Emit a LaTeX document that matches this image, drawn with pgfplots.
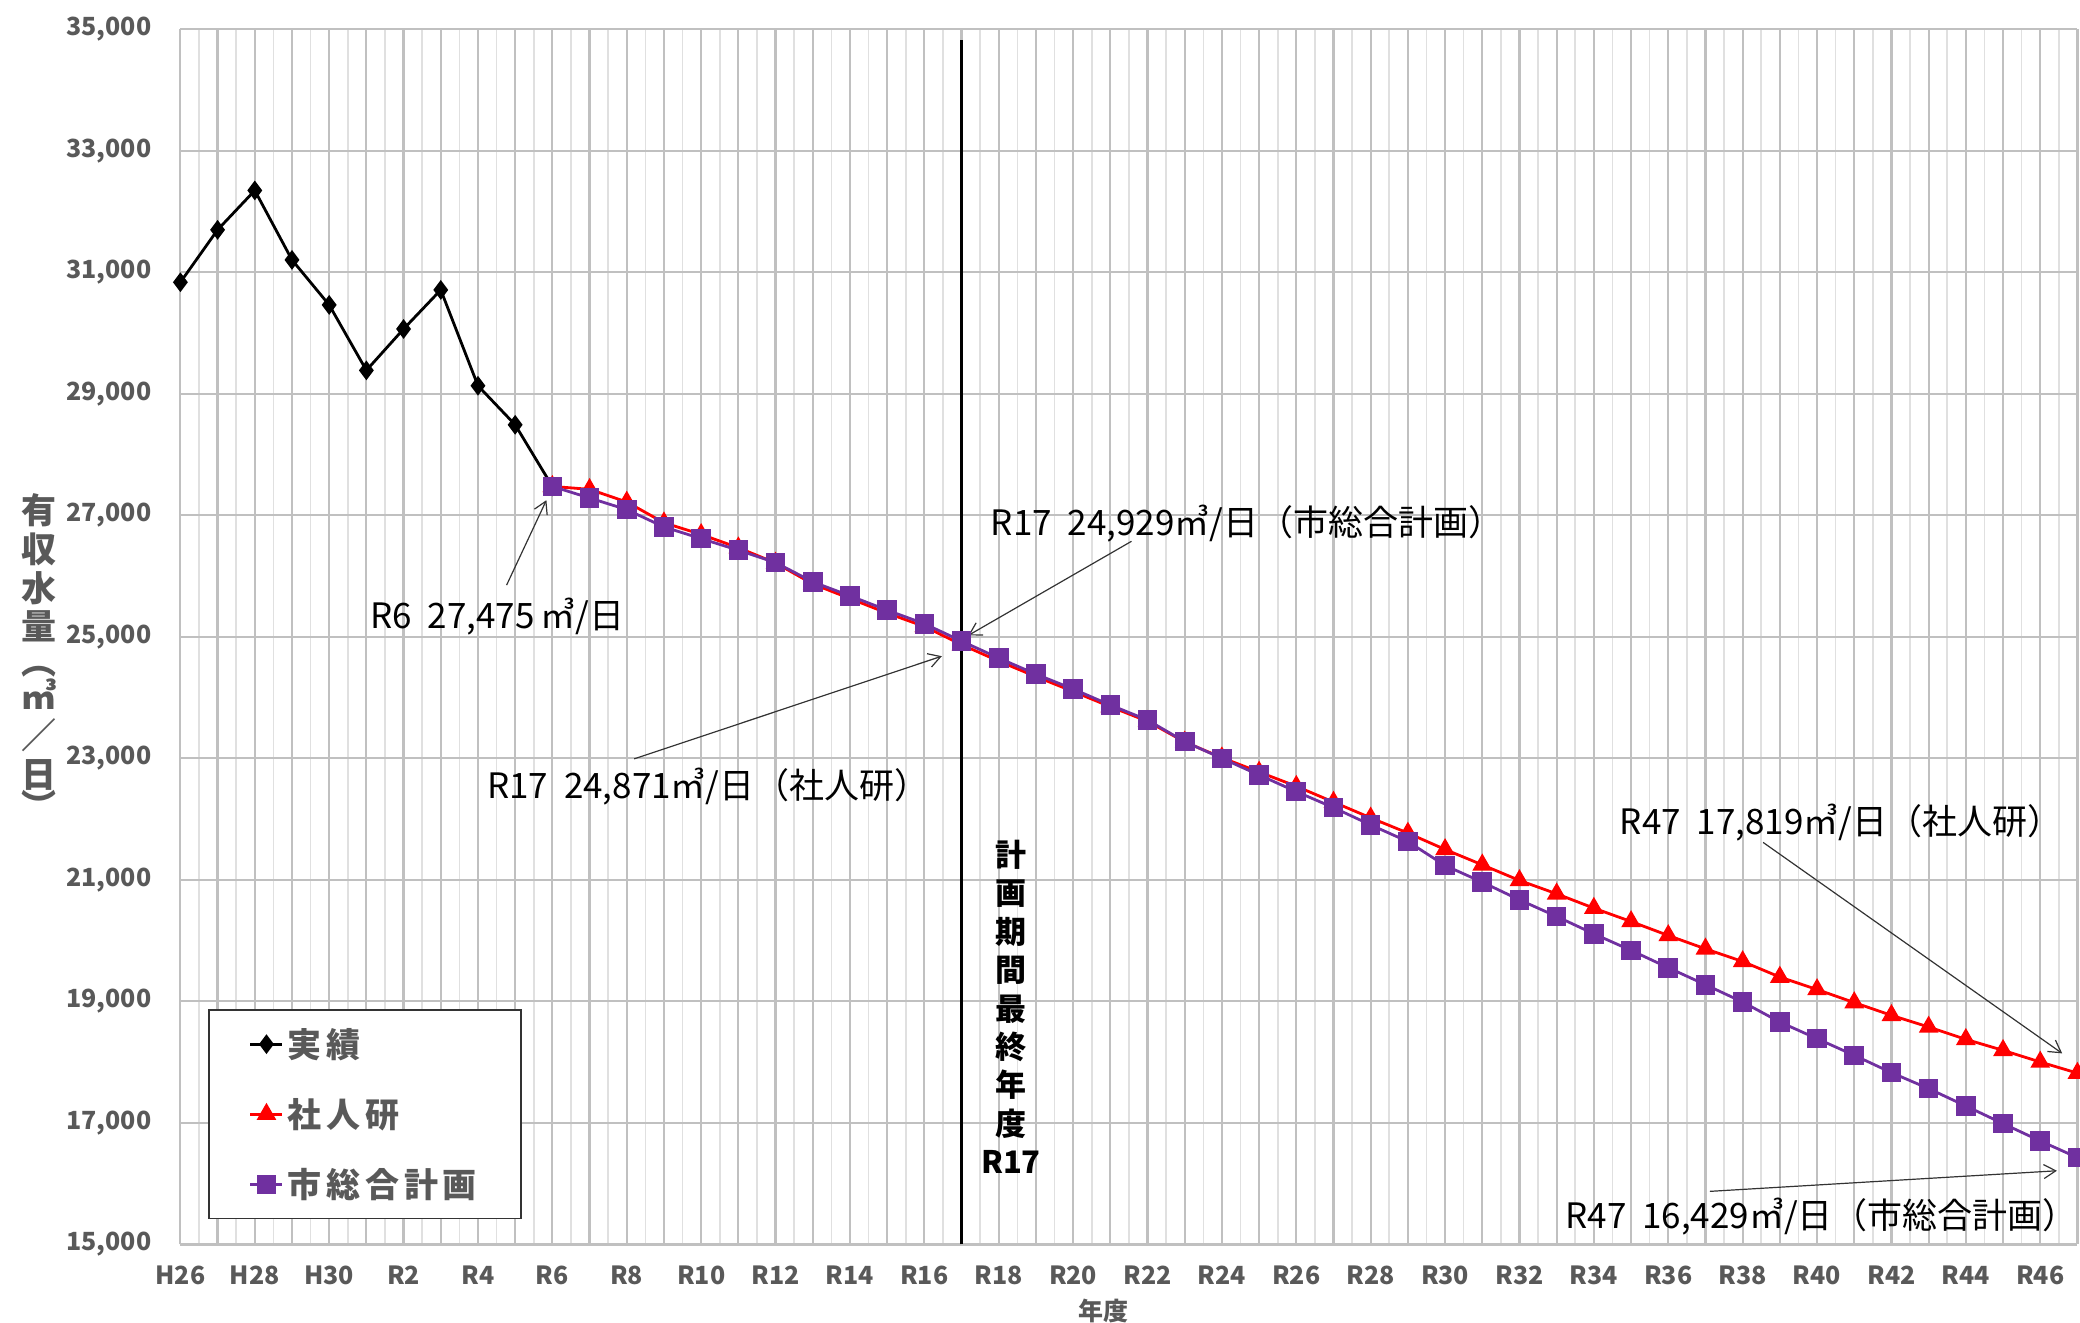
\documentclass[border=0pt]{standalone}
\usepackage{fontspec}
\usepackage{pgfplots}
\usepackage{pgfplotstable}
\pgfplotsset{compat=1.18}
\usetikzlibrary{arrows.meta}
\setmainfont{Noto Sans CJK JP}

\definecolor{labelgray}{HTML}{595959}
\definecolor{gridmajor}{HTML}{C0C0C0}
\definecolor{gridminor}{HTML}{E0E0E0}
\definecolor{ipssred}{HTML}{FF0000}
\definecolor{planpurple}{HTML}{7030A0}

\newcommand\tickfont{\bfseries\fontsize{12.5}{15}\selectfont}
\newcommand\annfont{\fontsize{17.5}{20}\selectfont}
\newcommand\legfont{\bfseries\fontsize{17}{20}\selectfont\addfontfeatures{LetterSpace=14}}

% fiscal-year index: H26 = 0, ..., H30 = 4, R1 = 5, ..., R47 = 51
\pgfplotstableread{
i  v
0  30835
1  31698
2  32346
3  31203
4  30462
5  29385
6  30066
7  30709
8  29132
9  28489
10 27475
}\actual

\pgfplotstableread{
i  v
10 27475
11 27427
12 27219
13 26877
14 26685
15 26466
16 26215
17 25870
18 25630
19 25390
20 25170
21 24871
22 24600
23 24345
24 24100
25 23850
26 23610
27 23270
28 23010
29 22775
30 22540
31 22280
32 22020
33 21770
34 21500
35 21247
36 20990
37 20770
38 20534
39 20314
40 20084
41 19864
42 19656
43 19400
44 19195
45 18980
46 18770
47 18578
48 18375
49 18194
50 18002
51 17819
}\ipss

\pgfplotstableread{
i  v
10 27475
11 27285
12 27093
13 26808
14 26616
15 26425
16 26222
17 25904
18 25674
19 25438
20 25215
21 24929
22 24650
23 24385
24 24140
25 23877
26 23630
27 23274
28 23000
29 22726
30 22452
31 22189
32 21904
33 21630
34 21236
35 20962
36 20671
37 20397
38 20111
39 19839
40 19554
41 19274
42 18989
43 18660
44 18386
45 18112
46 17827
47 17564
48 17278
49 16988
50 16703
51 16429
}\cityplan

\begin{document}
\begin{tikzpicture}
\begin{axis}[
  scale only axis,
  width=948.5pt, height=607.6pt,
  xmin=0, xmax=51, ymin=15000, ymax=35000,
  clip=false,
  axis line style={draw=none},
  xtick={0,...,51},
  xticklabels={H26,,H28,,H30,,R2,,R4,,R6,,R8,,R10,,R12,,R14,,R16,,R18,,R20,,R22,,R24,,R26,,R28,,R30,,R32,,R34,,R36,,R38,,R40,,R42,,R44,,R46,},
  minor xtick={0.5,1.5,...,50.5},
  ytick={15000,17000,...,35000},
  yticklabels={{15,000},{17,000},{19,000},{21,000},{23,000},{25,000},{27,000},{29,000},{31,000},{33,000},{35,000}},
  major tick length=0pt, minor tick length=0pt,
  xmajorgrids, xminorgrids, ymajorgrids,
  major grid style={draw=gridmajor, line width=1.1pt},
  minor grid style={draw=gridminor, line width=0.8pt},
  tick label style={font=\tickfont, text=labelgray},
  xticklabel style={yshift=-7pt},
  yticklabel style={xshift=-11pt},
  legend style={at={(rel axis cs:0.0147,0.0207)}, anchor=south west,
    draw=black!80, line width=0.8pt, fill=white,
    inner xsep=20pt, inner ysep=7pt, row sep=15pt,
    font=\legfont, text=labelgray, cells={anchor=west}},
  legend image code/.code={\draw[#1, mark repeat=2, mark phase=2]
    plot coordinates {(0pt,0pt) (8pt,0pt) (16pt,0pt)};},
]
\addplot[black, line width=1.4pt, mark=diamond*, mark size=3.8pt,
  mark options={solid, fill=black}] table[x=i, y=v] {\actual};
\addlegendentry{実績}
\addplot[ipssred, line width=1.4pt, mark=triangle*, mark size=4.3pt,
  mark options={solid, fill=ipssred}] table[x=i, y=v] {\ipss};
\addlegendentry{社人研}
\addplot[planpurple, line width=1.4pt, mark=square*, mark size=4.2pt,
  mark options={solid, fill=planpurple}] table[x=i, y=v] {\cityplan};
\addlegendentry{市総合計画}

% final year of the planning period
\draw[black, line width=1.4pt] (axis cs:21,15000) -- (axis cs:21,34830);
\node[font=\bfseries\fontsize{15.5}{19.2}\selectfont, align=center, inner sep=0pt]
  at (axis cs:22.33,18908) {計\\画\\期\\間\\最\\終\\年\\度\\R17};

% value call-outs
\begin{scope}[every node/.style={font=\annfont, anchor=west, inner sep=0pt}]
\node at (axis cs:5.10,25327) {R6\ \ 27,475\,㎥/日};
\node at (axis cs:21.78,26856) {R17\ \ 24,929㎥/日（市総合計画）};
\node at (axis cs:8.24,22533) {R17\ \ 24,871㎥/日（社人研）};
\node at (axis cs:38.69,21943) {R47\ \ 17,819㎥/日（社人研）};
\node at (axis cs:37.23,15459) {R47\ \ 16,429㎥/日（市総合計画）};
\end{scope}
\begin{scope}[black!80, line width=0.6pt, -{Straight Barb[length=6pt,width=7pt]}]
\draw (axis cs:8.77,25851) -- (axis cs:9.84,27249);
\draw (axis cs:25.57,26572) -- (axis cs:21.18,25022);
\draw (axis cs:12.20,22991) -- (axis cs:20.47,24681);
\draw (axis cs:42.55,21616) -- (axis cs:50.59,18144);
\draw (axis cs:41.12,15873) -- (axis cs:50.45,16212);
\end{scope}

% axis titles
\node[font=\bfseries\fontsize{17.5}{19.4}\selectfont, text=labelgray, align=center, inner sep=0pt]
  at ([xshift=-70.5pt]axis cs:0,24673) {有\\収\\水\\量\\[-2pt]︵\\[-2pt]㎥\\／\\日\\[-3pt]︶};
\node[font=\tickfont, text=labelgray, inner sep=0pt]
  at ([yshift=-33.2pt]axis cs:24.82,15000) {年度};
\end{axis}
\pgfresetboundingbox
\path[use as bounding box] ([shift={(-90.2pt,-39.1pt)}]current axis.south west)
  rectangle ([shift={(949.8pt,622.2pt)}]current axis.south west);
\end{tikzpicture}
\end{document}
